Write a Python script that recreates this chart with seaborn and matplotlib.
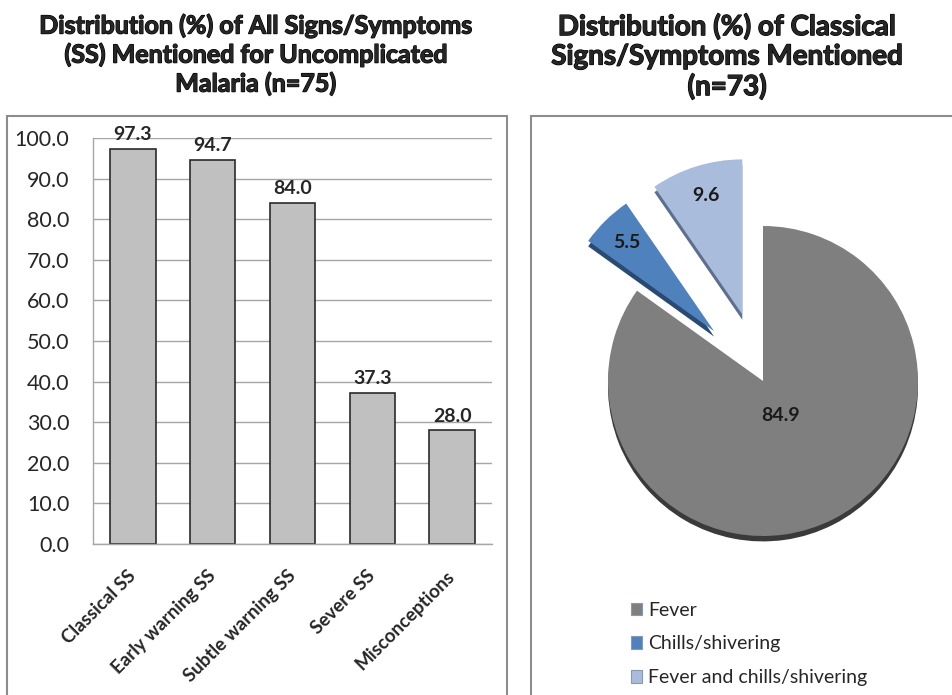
import numpy as np
import pandas as pd
import seaborn as sns
import matplotlib
matplotlib.use("Agg")
import matplotlib.pyplot as plt
import matplotlib.patheffects as pe
from matplotlib.patches import Rectangle, Patch

# ---- data ----
categories = ["Classical SS", "Early warning SS", "Subtle warning SS", "Severe SS", "Misconceptions"]
percent_all = [97.3, 94.7, 84.0, 37.3, 28.0]

classical_labels = ["Fever", "Chills/shivering", "Fever and chills/shivering"]
percent_classical = [84.9, 5.5, 9.6]

y_ticks = [0, 10, 20, 30, 40, 50, 60, 70, 80, 90, 100]

title_left = "Distribution (%) of All Signs/Symptoms\n(SS) Mentioned for Uncomplicated\nMalaria (n=75)"
title_right = "Distribution (%) of Classical\nSigns/Symptoms Mentioned\n(n=73)"

# ---- style ----
sns.set_theme(style="white")
plt.rcParams["font.family"] = ["Lato", "DejaVu Sans"]

W, H = 952, 695
fig = plt.figure(figsize=(W / 100, H / 100), dpi=100)


def fx(px):
    return px / W


def fy(py):
    return 1 - py / H


# panel frames
for x0, x1 in [(7, 507), (531, 965)]:
    fig.patches.append(Rectangle((fx(x0), fy(705)), (x1 - x0) / W, (705 - 116) / H,
                                 transform=fig.transFigure, fill=False,
                                 ec="#8c8c8c", lw=1.5))

# titles (slight outline to thicken the strokes)
heavy = [pe.withStroke(linewidth=0.9, foreground="black")]
fig.text(fx(256), fy(14), title_left, ha="center", va="top", fontsize=18,
         fontweight="bold", linespacing=1.28, path_effects=heavy)
fig.text(fx(727), fy(13), title_right, ha="center", va="top", fontsize=20,
         fontweight="bold", linespacing=1.16, path_effects=heavy)

# ---- bar chart ----
ax1 = fig.add_axes([fx(93), fy(544), 399 / W, (544 - 138) / H])
df = pd.DataFrame({"category": categories, "percent": percent_all})
sns.barplot(data=df, x="category", y="percent", ax=ax1, color="#C0C0C0",
            saturation=1, edgecolor="#2b2b2b", linewidth=1.2, width=0.57)
ax1.set_xlim(-0.5, len(categories) - 0.5)
ax1.set_ylim(0, 100)
ax1.set_yticks(y_ticks)
ax1.set_yticklabels([f"{v:.1f}" for v in y_ticks], fontsize=15.5)
ax1.set_xlabel("")
ax1.set_ylabel("")
ax1.yaxis.grid(True, color="#A6A6A6", lw=1)
ax1.set_axisbelow(True)
for s in ["top", "right"]:
    ax1.spines[s].set_visible(False)
for s in ["left", "bottom"]:
    ax1.spines[s].set_color("#A6A6A6")
    ax1.spines[s].set_linewidth(1)
ax1.tick_params(axis="y", direction="out", length=4, color="#A6A6A6", pad=13)
ax1.tick_params(axis="x", direction="in", length=4, color="#A6A6A6", pad=21)
ax1.set_xticks(range(len(categories)))
ax1.set_xticklabels(categories, rotation=45, ha="right", rotation_mode="anchor",
                    va="center", fontsize=13.5, fontweight="bold")
ax1.bar_label(ax1.containers[0], labels=[f"{v:.1f}" for v in percent_all],
              padding=4, fontsize=14, fontweight="bold")

# ---- pie chart ----
half = 250
ax2 = fig.add_axes([fx(763 - half), fy(381 + half), 2 * half / W, 2 * half / H])
colors = ["#7F7F7F", "#4F81BD", "#A9BCDC"]
side_colors = ["#3A3A3A", "#2A4A72", "#5E6F8E"]
explode = [0, 0.45, 0.45]

# darker underlay for the tilted rim
ax2.pie(percent_classical, colors=side_colors, explode=explode, startangle=90,
        counterclock=False, center=(0, -0.035), wedgeprops=dict(lw=0))
wedges, _ = ax2.pie(percent_classical, colors=colors, explode=explode,
                    startangle=90, counterclock=False, wedgeprops=dict(lw=0))

label_dist = [0.25, 0.8, 0.8]
for w, v, d in zip(wedges, percent_classical, label_dist):
    mid = np.deg2rad((w.theta1 + w.theta2) / 2)
    cx, cy = w.center
    ax2.text(cx + d * w.r * np.cos(mid), cy + d * w.r * np.sin(mid), f"{v:.1f}",
             ha="center", va="center", fontsize=14, fontweight="bold",
             color="#1a1a1a")

lim = half / 155
ax2.set_xlim(-lim, lim)
ax2.set_ylim(-lim, lim)
ax2.axis("off")

handles = [Patch(facecolor=c, edgecolor="#8899b0", lw=0.8, label=l)
           for c, l in zip(colors, classical_labels)]
fig.legend(handles=handles, loc="upper left", bbox_to_anchor=(fx(623), fy(594)),
           frameon=False, fontsize=14, handlelength=0.6, handleheight=0.6,
           handletextpad=0.3, labelspacing=0.86, borderaxespad=0)

fig.savefig("out.png", dpi=100)
